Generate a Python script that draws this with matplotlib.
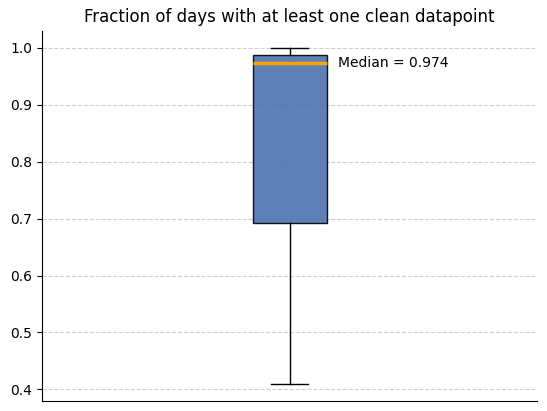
import matplotlib
matplotlib.use("Agg")
import matplotlib.pyplot as plt

# --- Estadisticas del boxplot --- #
whislo = 0.410
q1 = 0.693
median = 0.974
q3 = 0.988
whishi = 1.000

stats = [{"whislo": whislo, "q1": q1, "med": median, "q3": q3, "whishi": whishi, "fliers": []}]

fig, ax = plt.subplots(figsize=(5.47, 4.11), dpi=100)
fig.subplots_adjust(left=0.077, right=0.982, top=0.925, bottom=0.025)

ax.bxp(stats, widths=0.15, patch_artist=True, showfliers=False,
       boxprops=dict(facecolor="#4c72b0", alpha=0.9, edgecolor="black"),
       medianprops=dict(color="orange", linewidth=2.5),
       whiskerprops=dict(color="black"), capprops=dict(color="black"))

ax.text(1.098, median, f"Median = {median:.3f}", va="center", ha="left", fontsize=10)

ax.set_title("Fraction of days with at least one clean datapoint", fontsize=12)
ax.set_xticks([])
ax.set_xlim(0.5, 1.5)
ax.set_ylim(0.38, 1.03)
ax.grid(axis="y", linestyle="--", alpha=0.6)
ax.set_axisbelow(True)
ax.spines["top"].set_visible(False)
ax.spines["right"].set_visible(False)

fig.savefig("out.png")
